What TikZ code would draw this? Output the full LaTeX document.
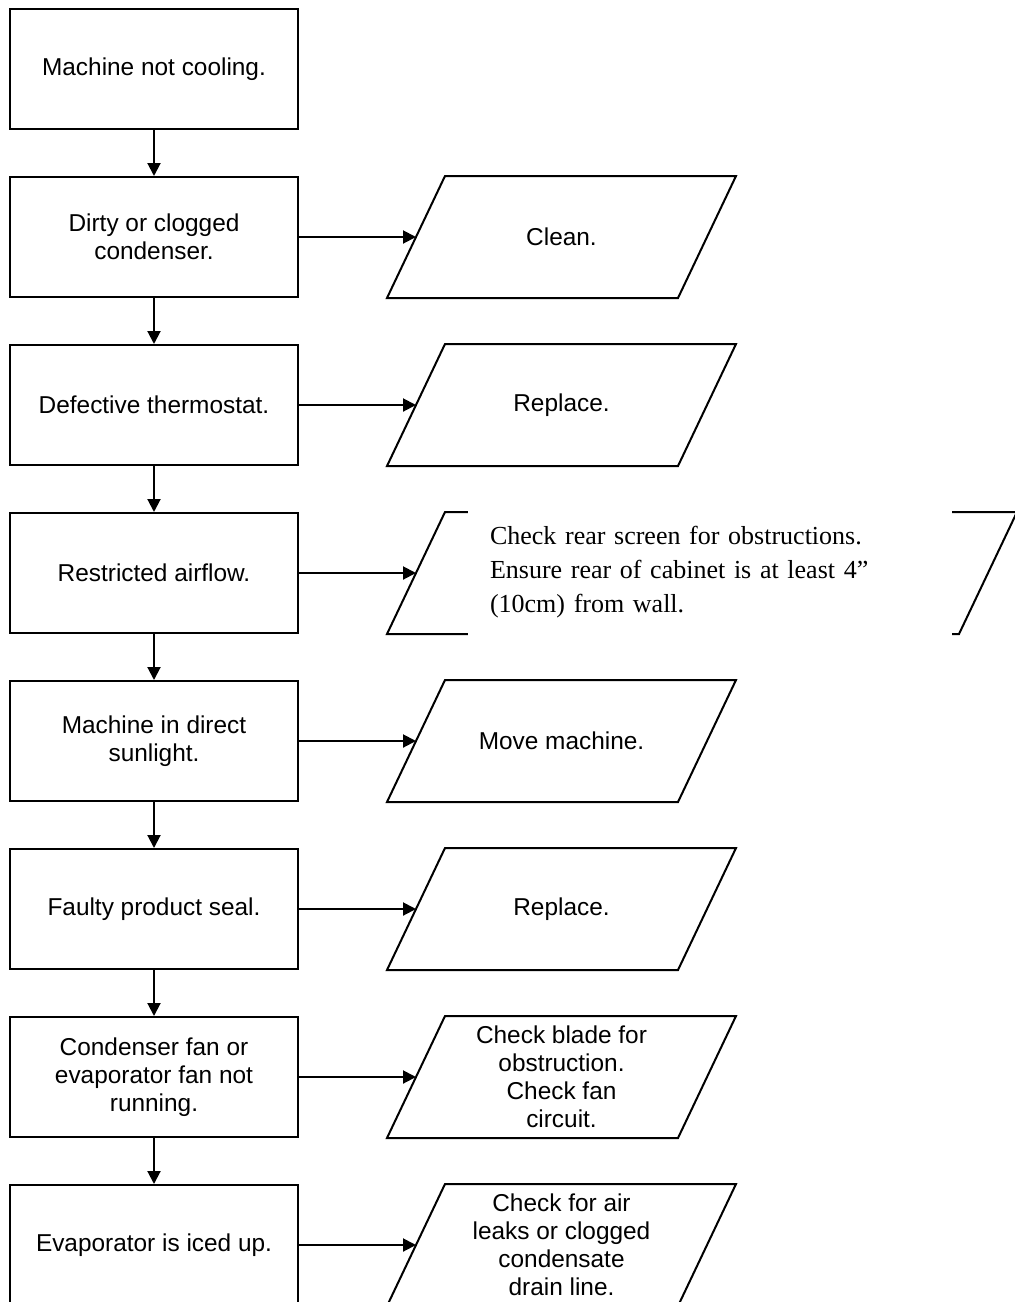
\documentclass[tikz,border=0pt]{standalone}
\usepackage{fontspec}
\setmainfont{Liberation Sans}
\newfontfamily\timesfont{Liberation Serif}
\usetikzlibrary{arrows.meta}

\begin{document}
\begin{tikzpicture}[x=0.5pt,y=-0.5pt,>={Triangle[length=6.5pt,width=6.5pt]},
        line width=1pt,
        cause/.style={draw,rectangle,minimum width=144pt,minimum height=60pt,
            align=center,font=\fontsize{12.2}{14}\selectfont},
        remedy/.style={rectangle,minimum width=144.5pt,minimum height=60pt,
            inner sep=0pt,align=center,font=\fontsize{12.2}{14}\selectfont}
    ]
    \useasboundingbox (0,0) rectangle (1014,1302);

    % causes, top to bottom
    \node[cause] (b1) at (154,69)   {Machine not cooling.};
    \node[cause] (b2) at (154,237)  {Dirty or clogged\\condenser.};
    \node[cause] (b3) at (154,405)  {Defective thermostat.};
    \node[cause] (b4) at (154,573)  {Restricted airflow.};
    \node[cause] (b5) at (154,741)  {Machine in direct\\sunlight.};
    \node[cause] (b6) at (154,909)  {Faulty product seal.};
    \node[cause] (b7) at (154,1077) {Condenser fan or\\evaporator fan not\\running.};
    \node[cause] (b8) at (154,1245) {Evaporator is iced up.};

    % remedies (the slanted outline is drawn below)
    \node[remedy] (p2) at (561.5,237)  {Clean.};
    \node[remedy] (p3) at (561.5,405)  {Replace.};
    \node[remedy,minimum width=285pt] (p4) at (702,573) {};
    \node[remedy] (p5) at (561.5,741)  {Move machine.};
    \node[remedy] (p6) at (561.5,909)  {Replace.};
    \node[remedy] (p7) at (561.5,1077) {Check blade for\\obstruction.\\Check fan\\circuit.};
    \node[remedy] (p8) at (561.5,1245) {Check for air\\leaks or clogged\\condensate\\drain line.};

    \foreach \p in {p2,p3,p4,p5,p6,p7,p8}
        \draw ([xshift=-14.5pt]\p.south west) -- ([xshift=14.5pt]\p.north west)
            -- ([xshift=14.5pt]\p.north east) -- ([xshift=-14.5pt]\p.south east) -- cycle;

    \node[fill=white,minimum width=242pt,minimum height=72pt,inner xsep=11pt,
        text width=220pt,align=left,
        font=\timesfont\fontsize{13}{17}\selectfont] (n4) at (710,572)
        {Check rear screen for obstructions.\\
         Ensure rear of cabinet is at least 4”\\
         (10cm) from wall.};

    \path
    (b1) edge[->] (b2)
    (b2) edge[->] (b3)
    (b3) edge[->] (b4)
    (b4) edge[->] (b5)
    (b5) edge[->] (b6)
    (b6) edge[->] (b7)
    (b7) edge[->] (b8);

    \path
    (b2) edge[->] (p2)
    (b3) edge[->] (p3)
    (b4) edge[->] (p4)
    (b5) edge[->] (p5)
    (b6) edge[->] (p6)
    (b7) edge[->] (p7)
    (b8) edge[->] (p8);
\end{tikzpicture}
\end{document}
